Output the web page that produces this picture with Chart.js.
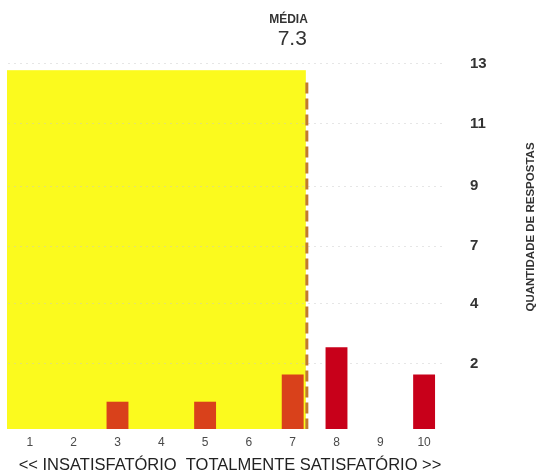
<!DOCTYPE html>
<html>
<head>
<meta charset="utf-8">
<script src="https://cdn.jsdelivr.net/npm/chart.js@4/dist/chart.umd.min.js"></script>
<style>
  html, body { margin: 0; padding: 0; background: #ffffff; }
  #wrap { width: 538px; height: 474px; position: relative; }
</style>
</head>
<body>
<div id="wrap"><canvas id="c" width="538" height="474"></canvas></div>
<script>
// ---- data ----
const categories = ['1', '2', '3', '4', '5', '6', '7', '8', '9', '10'];
const responses = [0, 0, 1, 0, 1, 0, 2, 3, 0, 2];
const mean = 7.3;
const meanLabel = 'MÉDIA';
const yTickValues = [2.4, 4.6, 6.7, 8.9, 11.2, 13.4];
const yTickLabels = ['2', '4', '7', '9', '11', '13'];
const xTitle = '<< INSATISFATÓRIO  TOTALMENTE SATISFATÓRIO >>';
const yTitle = 'QUANTIDADE DE RESPOSTAS';

const FONT = '"Liberation Sans", Arial, Helvetica, sans-serif';
const shadeTop = 13.15;   // top of the yellow panel (y units)
const lineTop = 12.7;     // top of the dashed mean line (y units)

// index position of the mean on the category scale
const meanIndex = categories.indexOf('7') + (mean - 7);

const barColors = responses.map((v, i) => (Number(categories[i]) < mean ? '#d9411b' : '#c8001a'));

const decor = {
  id: 'decor',
  beforeDraw(chart) {
    const { ctx, chartArea, scales } = chart;
    const x = scales.x, y = scales.y;
    const xr = x.getPixelForValue(meanIndex);
    const yt = y.getPixelForValue(shadeTop);
    const yb = y.getPixelForValue(0);
    ctx.save();
    ctx.fillStyle = '#fbfa1e';
    ctx.fillRect(chartArea.left - 1, yt, xr - chartArea.left + 1, yb - yt);
    ctx.restore();
  },
  afterDatasetsDraw(chart) {
    const { ctx, chartArea, scales } = chart;
    const x = scales.x, y = scales.y;
    const xm = x.getPixelForValue(meanIndex);
    ctx.save();
    ctx.strokeStyle = '#c27a2e';
    ctx.lineWidth = 3;
    ctx.setLineDash([11, 5]);
    ctx.beginPath();
    ctx.moveTo(xm + 1, y.getPixelForValue(lineTop));
    ctx.lineTo(xm + 1, y.getPixelForValue(0));
    ctx.stroke();
    ctx.setLineDash([]);

    // mean labels
    ctx.fillStyle = '#333333';
    ctx.textAlign = 'right';
    ctx.textBaseline = 'alphabetic';
    ctx.font = 'bold 12px ' + FONT;
    ctx.fillText(meanLabel, xm + 2, 23);
    ctx.font = '21px ' + FONT;
    ctx.fillText(String(mean), xm + 1, 45);

    // x title, centred under the plot
    ctx.fillStyle = '#222222';
    ctx.textAlign = 'center';
    ctx.font = '16.5px ' + FONT;
    ctx.fillText(xTitle, (chartArea.left + chartArea.right) / 2 + 3, 470);

    // y title (reads bottom-to-top)
    ctx.translate(531, 227);
    ctx.rotate(-Math.PI / 2);
    ctx.textAlign = 'center';
    ctx.textBaseline = 'middle';
    ctx.fillStyle = '#333333';
    ctx.font = 'bold 11.5px ' + FONT;
    ctx.fillText(yTitle, 0, 0);
    ctx.restore();
  }
};

new Chart(document.getElementById('c'), {
  type: 'bar',
  data: {
    labels: categories,
    datasets: [{
      data: responses,
      backgroundColor: barColors,
      borderWidth: 0,
      barPercentage: 0.5,
      categoryPercentage: 1.0
    }]
  },
  options: {
    responsive: false,
    animation: false,
    devicePixelRatio: 1,
    layout: { padding: { left: 8, top: 47, right: 0, bottom: 0 } },
    plugins: { legend: { display: false }, tooltip: { enabled: false } },
    scales: {
      x: {
        grid: { display: false, drawTicks: false },
        border: { display: false },
        ticks: { color: '#4a4a4a', font: { family: FONT, size: 12 }, padding: 6, maxRotation: 0 },
        afterFit(s) { s.height = 45; }
      },
      y: {
        position: 'right',
        min: 0,
        max: 14,
        afterBuildTicks(s) { s.ticks = yTickValues.map(v => ({ value: v })); },
        grid: { color: 'rgba(200,200,200,0.45)', drawTicks: false, lineWidth: 1 },
        border: { display: false, dash: [2, 4] },
        ticks: {
          color: '#333333',
          font: { family: FONT, size: 15, weight: 'bold' },
          padding: 24,
          callback(v, i) { return yTickLabels[i]; }
        },
        afterFit(s) { s.width = 92; }
      }
    }
  },
  plugins: [decor]
});
</script>
</body>
</html>
